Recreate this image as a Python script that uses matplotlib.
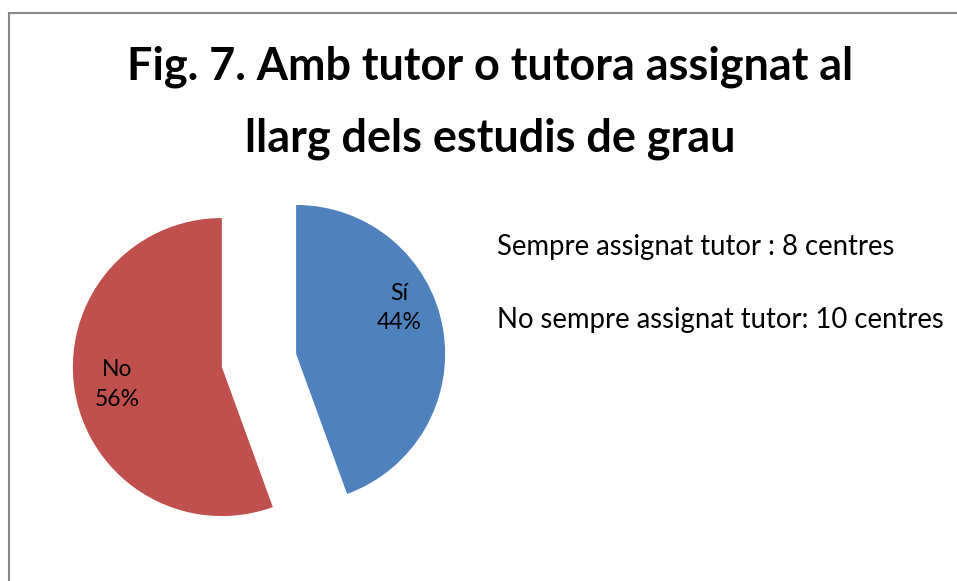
import numpy as np
import matplotlib
matplotlib.use("Agg")
from matplotlib import pyplot as plt
from matplotlib.lines import Line2D

plt.rcParams['font.family'] = ['Lato', 'DejaVu Sans']

# data
labels = ["Sí", "No"]
centres = [8, 10]
colors = ["#4F81BD", "#C0504D"]
title_lines = ["Fig. 7. Amb tutor o tutora assignat al",
               "llarg dels estudis de grau"]
notes = ["Sempre assignat tutor : 8 centres",
         "No sempre assignat tutor: 10 centres"]

W, H = 957, 581
fig = plt.figure(figsize=(W / 100, H / 100), dpi=100)
ax = fig.add_axes([0, 0, 1, 1])
ax.set_xlim(0, W)
ax.set_ylim(0, H)
ax.set_aspect("equal")
ax.axis("off")

# chart frame (only left and top edges visible in the crop)
ax.add_line(Line2D([8.5, 8.5], [0, H - 13], color="#868686", lw=1.5))
ax.add_line(Line2D([8.5, W], [H - 13, H - 13], color="#868686", lw=1.5))

radius = 149
center = (259, H - 360.5)
wedges, _ = ax.pie(centres, colors=colors, startangle=90, counterclock=False,
                   radius=radius, center=center, explode=[37.7, 37.7],
                   wedgeprops=dict(linewidth=0))

total = sum(centres)
# label placement relative to each wedge's own centre (angle, fraction of radius)
label_pos = [(24, 0.76), (189.5, 0.71)]
for w, lab, val, (ang, dist) in zip(wedges, labels, centres, label_pos):
    cx, cy = w.center
    a = np.deg2rad(ang)
    ax.text(cx + dist * radius * np.cos(a), cy + dist * radius * np.sin(a),
            "%s\n%d%%" % (lab, round(100 * val / total)),
            ha="center", va="center", fontsize=16.5, linespacing=1.5)

ax.set_xlim(0, W)
ax.set_ylim(0, H)

for i, s in enumerate(title_lines):
    fig.text(490.5 / W, 1 - (80 + i * 72) / H, s, ha="center", va="baseline",
             fontsize=32.4, fontweight="bold")

for i, s in enumerate(notes):
    fig.text(497 / W, 1 - (255 + i * 73) / H, s, ha="left", va="baseline",
             fontsize=19.8)

fig.savefig("out.png", dpi=100)
